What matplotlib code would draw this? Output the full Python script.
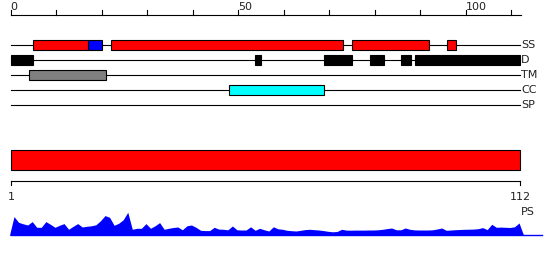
#secondary structure / domain track plot with PS profile

import matplotlib.pyplot as plt
from matplotlib.patches import Rectangle

seq_length = 112
track_names = ["SS", "D", "TM", "CC", "SP"]

ss_helix = [(5, 17), (22, 73), (75, 92), (96, 98)]
ss_strand = [(17, 20)]
domains = [(0, 5), (53.7, 55), (69, 75), (79, 82), (85.8, 88), (89, 112)]
tm_regions = [(4, 21)]
cc_regions = [(48, 69)]
sp_regions = []

top_ticks = list(range(0, 111, 10))
top_labels = ["0", "50", "100"]

residues = list(range(1, 113))
ps_values = [18.7, 13, 11.5, 10.3, 13.7, 8, 8, 13.7, 11, 8,
             10, 11.7, 6, 9, 11.7, 8.3, 9, 9.5, 10.5, 14.5,
             19.7, 18, 10, 12, 15.5, 23, 6, 7, 7, 11.7,
             7, 9.5, 12.7, 6, 7, 7.8, 8.3, 5.5, 9.5, 10.3,
             8, 5, 4.7, 4.7, 8, 6.2, 6, 5.5, 9.3, 5.5,
             5.3, 5.3, 8.5, 5, 7, 5.5, 4.3, 8.5, 6.5, 6,
             5, 4.6, 4.3, 5, 5.7, 6, 5.6, 5.3, 4.7, 4,
             3.5, 3.8, 6, 5.2, 5.1, 5.2, 5.2, 5.2, 5.3, 5.3,
             5.5, 6, 6.7, 7.3, 5.5, 5.5, 7.3, 6, 5.4, 5.3,
             5.3, 5.3, 5.5, 6.3, 7.3, 5, 5.3, 5.6, 5.8, 6,
             6.1, 6.2, 6.6, 7.7, 5.7, 11, 8, 8.2, 8, 7.8,
             8.5, 12.3]

W, H = 550, 260
px = 4.55
x0 = 10.5
xlim = (-x0 / px, (W - x0) / px)

fig = plt.figure(figsize=(W / 100, H / 100), dpi=100)
ax = fig.add_axes([0, 0, 1, 1])
ax.set_xlim(*xlim)
ax.set_ylim(H, 0)
ax.axis("off")

fs = 8
tc = "#222222"

# top ruler
ax.plot([0, seq_length + 0.3], [14.7, 14.7], color="black", lw=0.8)
for t in top_ticks:
    ax.plot([t, t], [14.7, 10], color="black", lw=0.8)
for lab in top_labels:
    ax.text(int(lab), 10.5, lab, ha="left", va="baseline", fontsize=fs, color=tc)

# tracks
track_y = [45, 60.3, 75.3, 90.3, 105.3]
box_h = 10
track_data = [
    [(s, e, "red") for s, e in ss_helix] + [(s, e, "blue") for s, e in ss_strand],
    [(s, e, "black") for s, e in domains],
    [(s, e, "grey") for s, e in tm_regions],
    [(s, e, "cyan") for s, e in cc_regions],
    [(s, e, "white") for s, e in sp_regions],
]
for name, y, segs in zip(track_names, track_y, track_data):
    ax.plot([0, seq_length], [y, y], color="black", lw=0.8, zorder=1)
    for s, e, c in segs:
        ax.add_patch(Rectangle((s, y - box_h / 2), e - s, box_h, facecolor=c,
                               edgecolor="black", lw=0.8, zorder=2))
    ax.text(seq_length + 0.2, y, name, ha="left", va="center", fontsize=fs, color=tc)

# full sequence bar
ax.add_patch(Rectangle((0, 150.3), seq_length, 20, facecolor="red",
                       edgecolor="black", lw=0.8))

# bottom ruler
ax.plot([0, seq_length], [180.7, 180.7], color="black", lw=0.8)
ax.plot([0, 0], [180.7, 185], color="black", lw=0.8)
ax.plot([seq_length, seq_length], [180.7, 185], color="black", lw=0.8)
ax.text(0.1, 199.5, "1", ha="center", va="baseline", fontsize=fs, color=tc)
ax.text(seq_length, 199.5, str(seq_length), ha="center", va="baseline", fontsize=fs, color=tc)
ax.text(seq_length + 0.2, 215, "PS", ha="left", va="baseline", fontsize=fs, color=tc)

# PS profile
base = 235.3
ax2 = fig.add_axes([0, (H - base) / H, 1, 30 / H])
ax2.set_xlim(*xlim)
ax2.set_ylim(0, 30)
ax2.axis("off")
xs = [r - 0.23 for r in residues]
xs = [xs[0] - 1] + xs + [xs[-1] + 1]
ys = [0] + ps_values + [0]
ax2.fill_between(xs, ys, 0, color="blue", lw=0)
ax2.plot([0, (542 - x0) / px], [0.3, 0.3], color="blue", lw=1, clip_on=False)

fig.savefig("out.png", dpi=100)
